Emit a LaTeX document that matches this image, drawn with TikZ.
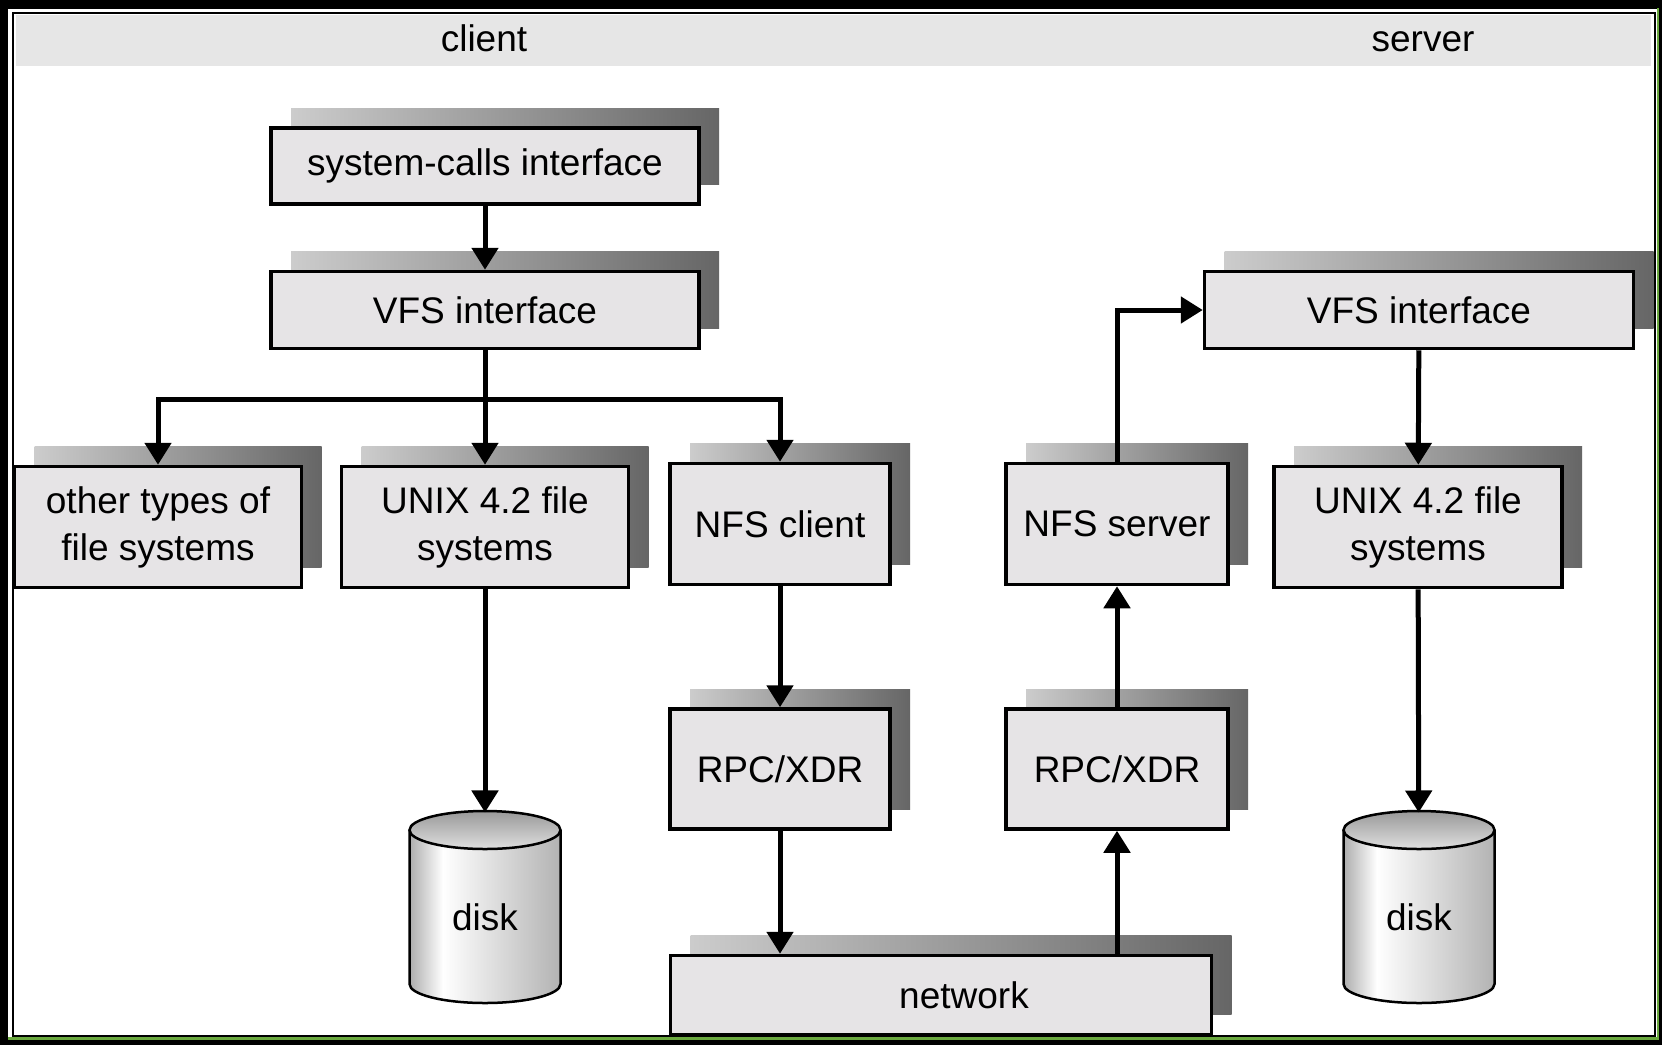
\documentclass[tikz,border=0pt]{standalone}
\usepackage[x11names]{xcolor}
\usepackage{fontspec}
\setmainfont{Liberation Sans}
\usetikzlibrary{shapes.geometric,shadows,arrows.meta}

\begin{document}
\begin{tikzpicture}[x=1pt, y=-1pt,
  layer/.style={draw, line width=3.5pt, fill=boxfill, align=center, inner sep=0pt,
    font=\fontsize{37}{47}\selectfont,
    general shadow={shadow xshift=20pt, shadow yshift=20pt, left color=gray!40, right color=black!60}},
  flow/.style={line width=5pt, -{Triangle[length=22pt,width=26pt]}},
  disk/.style={cylinder, shape border rotate=90, aspect=0.5, inner sep=0pt,
    minimum width=151pt, minimum height=192pt, font=\fontsize{37}{47}\selectfont},
  lid/.style={draw, line width=2.5pt, top color=gray!80, bottom color=gray!25},
  side/.style={anchor=base, font=\fontsize{37}{47}\selectfont}
]

\definecolor{boxfill}{RGB}{230,228,230}
\definecolor{band}{RGB}{230,230,230}
\definecolor{edge}{RGB}{106,168,62}

\useasboundingbox (0,0) rectangle (1662,1045);

% frame and header band
\fill[black] (0,0) rectangle (1662,1045);
\fill[white] (8,9) rectangle (1657,1037);
\draw[edge, line width=2.5pt] (1658,8) -- (1658,1038.5) -- (8,1038.5);
\draw[line width=2pt] (13,13) rectangle (1655,1036);
\fill[band] (16,15) rectangle (1651,66);
\node[side] (client) at (484,51) {client};
\node[side] (server) at (1423,51) {server};

% disks
\foreach \cx in {485,1419} {
  \begin{scope}
    \clip (\cx-75.5,830) -- (\cx-75.5,984) arc[start angle=180, end angle=0, x radius=75.5, y radius=19] -- (\cx+75.5,830) -- cycle;
    \shade[left color=gray!65, right color=white] (\cx-76,800) rectangle (\cx-42,1010);
    \shade[left color=white, right color=gray!60] (\cx-42,800) rectangle (\cx+76,1010);
  \end{scope}
  \draw[line width=2.5pt] (\cx-75.5,830) -- (\cx-75.5,984) arc[start angle=180, end angle=0, x radius=75.5, y radius=19] -- (\cx+75.5,830);
  \shade[lid] (\cx,830) ellipse [x radius=75.5, y radius=19];
}

% client side
\node[layer, minimum width=428pt, minimum height=76pt] (calls) at (485,166) {system-calls interface};
\node[layer, minimum width=428pt, minimum height=77pt] (cvfs) at (485,310) {VFS interface};
\node[layer, minimum width=287pt, minimum height=121pt] (other) at (158,527) {other types of\\file systems};
\node[layer, minimum width=287pt, minimum height=121pt] (cunix) at (485,527) {UNIX 4.2 file\\systems};
\node[layer, minimum width=220pt, minimum height=121pt] (nfsc) at (780,524) {NFS client};
\node[layer, minimum width=220pt, minimum height=120pt] (rpcc) at (780,769) {RPC/XDR};
\node[disk] (cdisk) at (485,917) {disk};

% server side
\node[layer, minimum width=429pt, minimum height=77pt] (svfs) at (1419,310) {VFS interface};
\node[layer, minimum width=222pt, minimum height=121pt] (nfss) at (1117,524) {NFS server};
\node[layer, minimum width=288pt, minimum height=121pt] (sunix) at (1418,527) {UNIX 4.2 file\\systems};
\node[layer, minimum width=222pt, minimum height=120pt] (rpcs) at (1117,769) {RPC/XDR};
\node[disk] (sdisk) at (1419,917) {disk};

\node[layer, minimum width=541pt, minimum height=79pt] (net) at (941,995) {\hspace*{46pt}network};

% connectors
\draw[flow] (calls) -- (cvfs);
\draw[flow] (cvfs.south) -- ++(0,49) coordinate (fork) -| (other);
\draw[flow] (fork) -- (cunix);
\draw[flow] (fork) -| (nfsc);
\draw[flow] (cunix) -- (cdisk);
\draw[flow] (nfsc) -- (rpcc);
\draw[flow] (rpcc) -- (rpcc |- net.north);
\draw[flow] (net.north -| rpcs) -- (rpcs);
\draw[flow] (rpcs) -- (nfss);
\draw[flow] (nfss) |- (svfs);
\draw[flow] (svfs) -- (sunix);
\draw[flow] (sunix) -- (sdisk);

\end{tikzpicture}
\end{document}
